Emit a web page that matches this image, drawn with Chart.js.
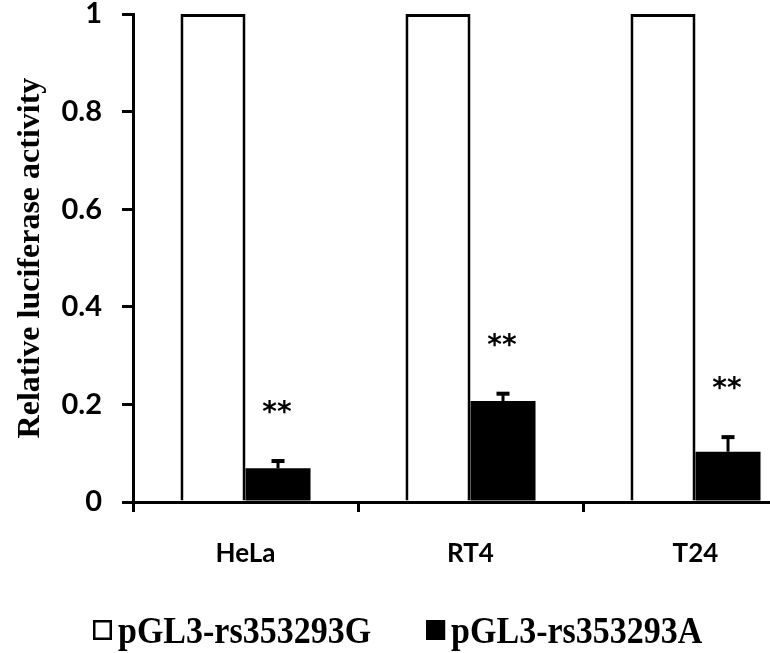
<!DOCTYPE html>
<html>
<head>
<meta charset="utf-8">
<title>Relative luciferase activity</title>
<script src="https://cdn.jsdelivr.net/npm/chart.js@4.4.1/dist/chart.umd.min.js"></script>
<style>
  html, body { margin: 0; padding: 0; background: #fff; overflow: hidden; }
  #wrap { width: 770px; height: 653px; overflow: hidden; }
</style>
</head>
<body>
<div id="wrap"><canvas id="chart" width="812" height="653"></canvas></div>
<script>
// ── Data ──────────────────────────────────────────────────
const cellLines = ['HeLa', 'RT4', 'T24'];
const seriesNames = ['pGL3-rs353293G', 'pGL3-rs353293A'];
const valuesG = [1, 1, 1];
const valuesA = [0.069, 0.207, 0.103];
const errorsA = [0.017, 0.017, 0.032];   // upper error only
const sigMarks = ['**', '**', '**'];
const yTicks = [0, 0.2, 0.4, 0.6, 0.8, 1];

// Error bars + significance stars on the second series
const errorBarPlugin = {
    id: 'errorBars',
    afterDatasetsDraw(chart) {
        const ctx = chart.ctx;
        const yScale = chart.scales.y;
        const meta = chart.getDatasetMeta(1);
        ctx.save();
        ctx.strokeStyle = '#000';
        ctx.fillStyle = '#000';
        meta.data.forEach((bar, i) => {
            const top = yScale.getPixelForValue(valuesA[i] + errorsA[i]);
            ctx.lineWidth = 3;
            ctx.beginPath();
            ctx.moveTo(bar.x, bar.y);
            ctx.lineTo(bar.x, top);
            ctx.stroke();
            ctx.fillRect(bar.x - 6.5, top - 1, 13, 4);

            ctx.font = 'bold 28px "DejaVu Sans"';
            ctx.textAlign = 'center';
            ctx.textBaseline = 'middle';
            ctx.fillText(sigMarks[i], bar.x - 1, top - 46);
        });
        ctx.restore();
    }
};

// Legend drawn in one row under the axis labels
// (the source text is slightly taller than wide, hence the scaleY)
const legendPlugin = {
    id: 'bottomLegend',
    afterDraw(chart) {
        const ctx = chart.ctx;
        let x = 93;
        ctx.save();
        ctx.font = 'bold 34px "Liberation Serif"';
        ctx.textBaseline = 'alphabetic';
        ctx.textAlign = 'left';
        chart.data.datasets.forEach(ds => {
            ctx.fillStyle = ds.backgroundColor;
            ctx.fillRect(x, 620, 19, 20);
            ctx.strokeStyle = '#000';
            ctx.lineWidth = 2.5;
            ctx.strokeRect(x + 1.25, 621.25, 16.5, 17.5);
            ctx.fillStyle = '#000';
            ctx.save();
            ctx.translate(x + 25, 643);
            ctx.scale(1, 1.1);
            ctx.fillText(ds.label, 0, 0);
            ctx.restore();
            x += 25 + ctx.measureText(ds.label).width + 55;
        });
        ctx.restore();
    }
};

new Chart(document.getElementById('chart'), {
    type: 'bar',
    data: {
        labels: cellLines,
        datasets: [
            {
                label: seriesNames[0],
                data: valuesG,
                backgroundColor: '#fff',
                borderColor: '#000',
                borderWidth: 3,
                categoryPercentage: 0.578,
                barPercentage: 1,
            },
            {
                label: seriesNames[1],
                data: valuesA,
                backgroundColor: '#000',
                borderColor: '#000',
                borderWidth: 0,
                categoryPercentage: 0.578,
                barPercentage: 1,
            },
        ],
    },
    options: {
        responsive: false,
        animation: false,
        devicePixelRatio: 1,
        layout: { padding: { top: 14, right: 4, bottom: 61, left: 0 } },
        plugins: {
            legend: { display: false },
            tooltip: { enabled: false },
        },
        scales: {
            x: {
                grid: { drawOnChartArea: false, tickLength: 10, lineWidth: 3, color: '#000', offset: true },
                border: { color: '#000', width: 3 },
                ticks: { color: '#000', font: { family: 'Lato', size: 26, weight: 'bold' }, padding: 26, maxRotation: 0 },
                afterFit: s => { s.height = 90; s.paddingLeft = 0; s.paddingRight = 0; },
            },
            y: {
                min: 0,
                max: 1,
                afterBuildTicks: s => { s.ticks = yTicks.map(v => ({ value: v })); },
                grid: { drawOnChartArea: false, tickLength: 11, lineWidth: 3, color: '#000' },
                border: { color: '#000', width: 3 },
                ticks: {
                    color: '#000',
                    font: { family: 'Lato', size: 29, weight: 'bold' },
                    padding: 20,
                    callback: v => String(v),
                },
                title: {
                    display: true,
                    text: 'Relative luciferase activity',
                    color: '#000',
                    font: { family: 'Liberation Serif', size: 32, weight: 'bold' },
                    padding: { top: 12, bottom: 0 },
                },
                afterFit: s => { s.width = 133; s.paddingTop = 0; s.paddingBottom = 0; },
            },
        },
    },
    plugins: [errorBarPlugin, legendPlugin],
});
</script>
</body>
</html>
